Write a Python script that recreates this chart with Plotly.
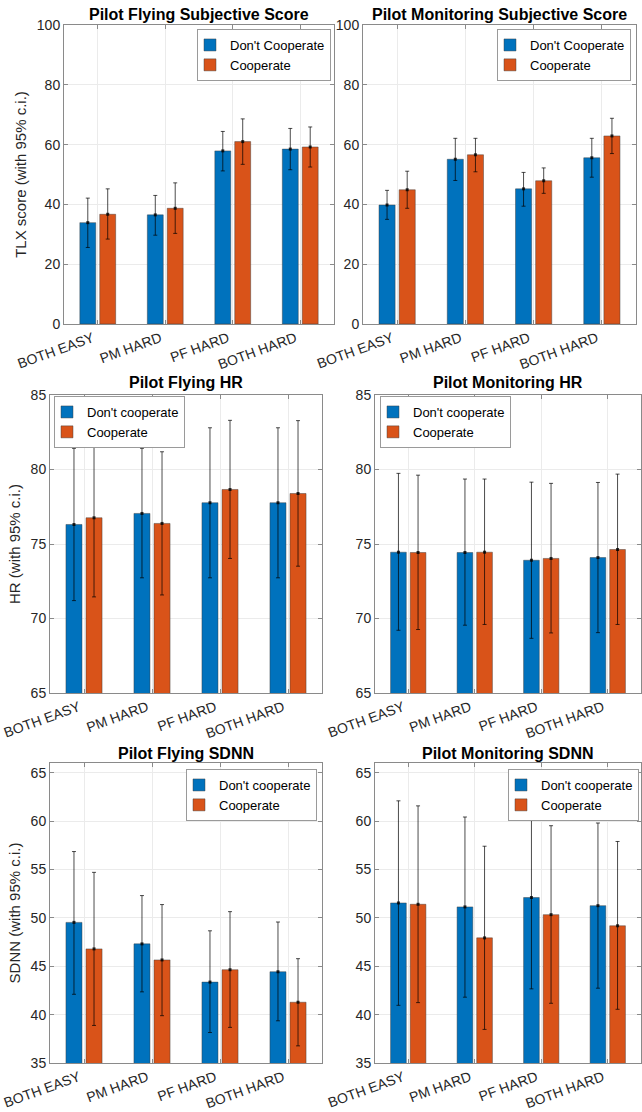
import plotly.graph_objects as go

categories = ["BOTH EASY", "PM HARD", "PF HARD", "BOTH HARD"]

# Pilot Flying Subjective Score (TLX)
pf_tlx_nc = [33.9, 36.5, 57.9, 58.5]
pf_tlx_nc_hi = [42.1, 43.0, 64.4, 65.4]
pf_tlx_nc_lo = [25.6, 29.7, 51.2, 51.6]
pf_tlx_c = [36.7, 38.7, 61.0, 59.2]
pf_tlx_c_hi = [45.2, 47.2, 68.6, 65.9]
pf_tlx_c_lo = [28.4, 30.3, 53.4, 52.5]

# Pilot Monitoring Subjective Score (TLX)
pm_tlx_nc = [39.8, 55.1, 45.2, 55.6]
pm_tlx_nc_hi = [44.7, 62.1, 50.7, 62.1]
pm_tlx_nc_lo = [35.0, 48.0, 39.4, 49.1]
pm_tlx_c = [44.9, 56.6, 47.9, 62.9]
pm_tlx_c_hi = [51.1, 62.1, 52.2, 68.8]
pm_tlx_c_lo = [38.7, 50.9, 43.7, 57.0]

# Pilot Flying HR
pf_hr_nc = [76.31, 77.05, 77.77, 77.77]
pf_hr_nc_hi = [81.42, 81.42, 82.8, 82.8]
pf_hr_nc_lo = [71.2, 72.73, 72.73, 72.73]
pf_hr_c = [76.76, 76.38, 78.66, 78.39]
pf_hr_c_hi = [82.0, 81.19, 83.3, 83.28]
pf_hr_c_lo = [71.45, 71.58, 74.03, 73.51]

# Pilot Monitoring HR
pm_hr_nc = [74.45, 74.43, 73.91, 74.09]
pm_hr_nc_hi = [79.74, 79.36, 79.15, 79.13]
pm_hr_nc_lo = [69.21, 69.55, 68.67, 69.05]
pm_hr_c = [74.43, 74.45, 74.03, 74.63]
pm_hr_c_hi = [79.62, 79.36, 79.07, 79.69]
pm_hr_c_lo = [69.26, 69.6, 69.03, 69.6]

# Pilot Flying SDNN
pf_sd_nc = [49.53, 47.31, 43.36, 44.43]
pf_sd_nc_hi = [56.85, 52.3, 48.66, 49.57]
pf_sd_nc_lo = [42.1, 42.35, 38.15, 39.36]
pf_sd_c = [46.79, 45.65, 44.64, 41.28]
pf_sd_c_hi = [54.7, 51.37, 50.64, 45.78]
pf_sd_c_lo = [38.88, 39.89, 38.68, 36.77]

# Pilot Monitoring SDNN
pm_sd_nc = [51.54, 51.13, 52.1, 51.26]
pm_sd_nc_hi = [62.09, 60.42, 61.53, 59.8]
pm_sd_nc_lo = [40.96, 41.8, 42.66, 42.73]
pm_sd_c = [51.4, 47.93, 50.33, 49.18]
pm_sd_c_hi = [61.57, 57.4, 59.52, 57.89]
pm_sd_c_lo = [41.24, 38.47, 41.17, 40.55]

BLUE = "#0072BD"
ORANGE = "#D95319"
FONT = "Liberation Sans, Arial, sans-serif"
W, H = 642, 1112
GAP = 0.41

panels = [
    dict(title="Pilot Flying Subjective Score", ytitle="TLX score (with 95% c.i.)",
         yr=[0, 100], dt=20, names=["Don't Cooperate", "Cooperate"],
         data=[(pf_tlx_nc, pf_tlx_nc_hi, pf_tlx_nc_lo), (pf_tlx_c, pf_tlx_c_hi, pf_tlx_c_lo)],
         px=(64, 334), py=(25, 324), leg=(331, 29, "right"), ty=14),
    dict(title="Pilot Monitoring Subjective Score", ytitle=None,
         yr=[0, 100], dt=20, names=["Don't Cooperate", "Cooperate"],
         data=[(pm_tlx_nc, pm_tlx_nc_hi, pm_tlx_nc_lo), (pm_tlx_c, pm_tlx_c_hi, pm_tlx_c_lo)],
         px=(363, 636), py=(25, 324), leg=(631, 29, "right"), ty=14),
    dict(title="Pilot Flying HR", ytitle="HR (with 95% c.i.)",
         yr=[65, 85], dt=5, names=["Don't cooperate", "Cooperate"],
         data=[(pf_hr_nc, pf_hr_nc_hi, pf_hr_nc_lo), (pf_hr_c, pf_hr_c_hi, pf_hr_c_lo)],
         px=(50, 322), py=(395, 693), leg=(54, 396, "left"), ty=383),
    dict(title="Pilot Monitoring HR", ytitle=None,
         yr=[65, 85], dt=5, names=["Don't cooperate", "Cooperate"],
         data=[(pm_hr_nc, pm_hr_nc_hi, pm_hr_nc_lo), (pm_hr_c, pm_hr_c_hi, pm_hr_c_lo)],
         px=(375, 641), py=(395, 693), leg=(380, 396, "left"), ty=383),
    dict(title="Pilot Flying SDNN", ytitle="SDNN (with 95% c.i.)",
         yr=[35, 66], dt=5, names=["Don't cooperate", "Cooperate"],
         data=[(pf_sd_nc, pf_sd_nc_hi, pf_sd_nc_lo), (pf_sd_c, pf_sd_c_hi, pf_sd_c_lo)],
         px=(50, 322), py=(763, 1063), leg=(317, 769, "right"), ty=753),
    dict(title="Pilot Monitoring SDNN", ytitle=None,
         yr=[35, 66], dt=5, names=["Don't cooperate", "Cooperate"],
         data=[(pm_sd_nc, pm_sd_nc_hi, pm_sd_nc_lo), (pm_sd_c, pm_sd_c_hi, pm_sd_c_lo)],
         px=(375, 641), py=(763, 1063), leg=(639, 769, "right"), ty=753),
]

fig = go.Figure()
layout = dict(
    width=W, height=H, margin=dict(l=0, r=0, t=0, b=0, autoexpand=False),
    paper_bgcolor="white", plot_bgcolor="white",
    barmode="group", bargap=GAP, bargroupgap=0.2,
    scattermode="group", scattergap=GAP,
    font=dict(family=FONT, size=13, color="#262626"),
    showlegend=True, annotations=[],
)

for i, p in enumerate(panels):
    k = "" if i == 0 else str(i + 1)
    lg = "legend" if i == 0 else f"legend{i + 1}"
    for j, (vals, hi, lo) in enumerate(p["data"]):
        fig.add_trace(go.Bar(
            x=categories, y=vals, name=p["names"][j],
            xaxis="x" + k, yaxis="y" + k, legend=lg,
            marker=dict(color=[BLUE, ORANGE][j], line=dict(color="rgba(60,60,60,0.45)", width=1)),
            error_y=dict(type="data", symmetric=False,
                         array=[h - v for h, v in zip(hi, vals)],
                         arrayminus=[v - l for v, l in zip(vals, lo)],
                         color="rgba(0,0,0,0.7)", thickness=1, width=2),
        ))
    for j, (vals, hi, lo) in enumerate(p["data"]):
        fig.add_trace(go.Scatter(
            x=categories, y=vals, mode="markers", showlegend=False, hoverinfo="skip",
            xaxis="x" + k, yaxis="y" + k,
            marker=dict(color="rgba(0,0,0,0.8)", size=3, symbol="square"),
        ))
    x0, x1 = p["px"]
    y0, y1 = p["py"]
    axcommon = dict(showline=True, linecolor="#8a8a8a", linewidth=1, mirror="ticks",
                    ticks="inside", ticklen=4, tickcolor="#8a8a8a", automargin=False,
                    showgrid=True, gridcolor="#ebebeb", gridwidth=1, zeroline=False,
                    tickfont=dict(family=FONT, size=14, color="#262626"))
    layout["xaxis" + k] = dict(axcommon, domain=[x0 / W, x1 / W], anchor="y" + k,
                               range=[-0.5, 3.5], tickangle=-20, type="category",
                               categoryorder="array", categoryarray=categories,
                               ticklabelshift=-5)
    ya = dict(axcommon, domain=[1 - y1 / H, 1 - y0 / H], anchor="x" + k,
              range=p["yr"], dtick=p["dt"], tick0=0)
    if p["ytitle"]:
        ya["title"] = dict(text=p["ytitle"], font=dict(family=FONT, size=15, color="#262626"), standoff=6)
    layout["yaxis" + k] = ya
    lx, ly, side = p["leg"]
    layout[lg] = dict(x=lx / W, y=1 - ly / H, xanchor=side, yanchor="top",
                      bgcolor="white", bordercolor="#9a9a9a", borderwidth=1,
                      font=dict(family=FONT, size=13, color="#000"),
                      tracegroupgap=0, itemwidth=30, indentation=-8)
    layout["annotations"].append(dict(
        text="<b>" + p["title"] + "</b>", x=(x0 + x1) / 2 / W, y=1 - p["ty"] / H,
        xref="paper", yref="paper", showarrow=False, xanchor="center", yanchor="middle",
        font=dict(family=FONT, size=16, color="#000")))

fig.update_layout(**layout)
fig.write_html("out.html", config={"displayModeBar": False},
               post_script="document.body.style.margin='0';")
